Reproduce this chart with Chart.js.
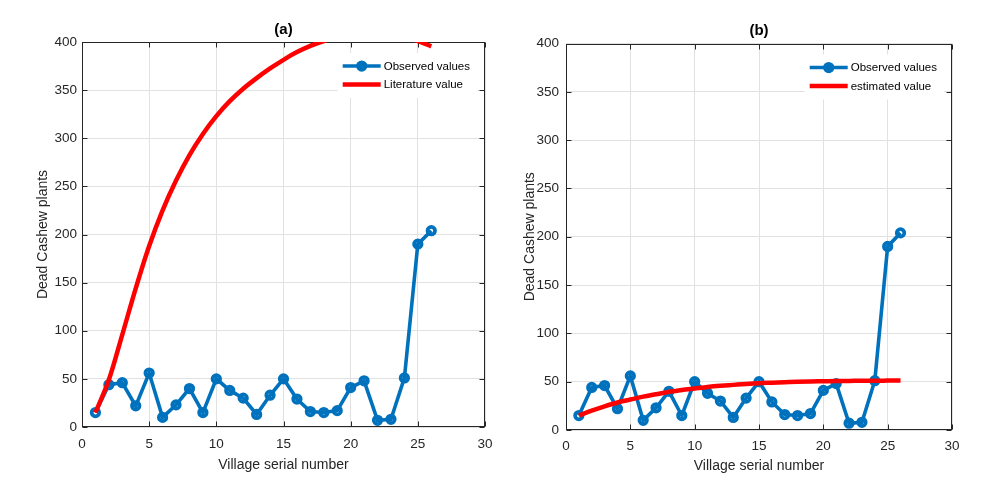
<!DOCTYPE html>
<html>
<head>
<meta charset="utf-8">
<script src="https://cdn.jsdelivr.net/npm/chart.js@4.4.1/dist/chart.umd.min.js"></script>
<style>
  html, body { margin: 0; padding: 0; background: #fff; }
  #wrap { position: relative; width: 995px; height: 504px; }
  canvas { position: absolute; top: 0; }
</style>
</head>
<body>
<div id="wrap">
  <canvas id="chartA" width="495" height="504" style="left:0"></canvas>
  <canvas id="chartB" width="500" height="504" style="left:495px"></canvas>
</div>
<script>
// Data
const villages = [1, 2, 3, 4, 5, 6, 7, 8, 9, 10, 11, 12, 13, 14, 15, 16, 17, 18, 19, 20, 21, 22, 23, 24, 25, 26];
const observed = [15, 44, 46, 22, 56, 10, 23, 40, 15, 50, 38, 30, 13, 33, 50, 29, 16, 15, 17, 41, 48, 7, 8, 51, 190, 204];
// panel (a): literature curve, runs off the top of the axes between ~18 and ~25
const literature = [15, 49, 96, 144, 188, 225, 256, 282.5, 304.5, 323, 338.5, 351.5, 362.5, 372.5, 381.5, 389.5, 396, 401, 404.5, 406.5, 407.5, 407.5, 406.5, 404.5, 401, 395.5];
// panel (b): estimated curve
const estimated = [15, 20, 24.5, 28.5, 31.5, 34.5, 37, 39.5, 41.5, 43, 44.5, 45.7, 46.7, 47.7, 48.5, 49, 49.5, 50, 50.3, 50.5, 50.7, 50.8, 51, 51, 51.1, 51.2];
// tick labels
const xTicks = [0, 5, 10, 15, 20, 25, 30];
const yTicks = [0, 50, 100, 150, 200, 250, 300, 350, 400];

const FONT = '"Liberation Sans", Arial, sans-serif';
const BLUE = '#0072BD';
const RED = '#FF0000';
const GRID = '#e1e1e1';
const AXIS = '#262626';

Chart.defaults.font.family = FONT;
Chart.defaults.color = AXIS;

//Box round the axes with inward ticks (matlab style)
const axesBox = {
    id: 'axesBox',
    beforeDatasetsDraw(chart) {
        const { ctx, chartArea: a, scales } = chart;
        const L = Math.round(a.left) + 0.5, R = Math.round(a.right) - 0.5;
        const T = Math.round(a.top) + 0.5, B = Math.round(a.bottom) - 0.5;
        const len = 5;
        ctx.save();
        ctx.strokeStyle = AXIS;
        ctx.lineWidth = 1;
        ctx.strokeRect(L, T, R - L, B - T);
        ctx.beginPath();
        scales.x.ticks.forEach(t => {
            const px = Math.round(scales.x.getPixelForValue(t.value)) + 0.5;
            ctx.moveTo(px, B); ctx.lineTo(px, B - len);
            ctx.moveTo(px, T); ctx.lineTo(px, T + len);
        });
        scales.y.ticks.forEach(t => {
            const py = Math.round(scales.y.getPixelForValue(t.value)) + 0.5;
            ctx.moveTo(L, py); ctx.lineTo(L + len, py);
            ctx.moveTo(R, py); ctx.lineTo(R - len, py);
        });
        ctx.stroke();
        ctx.restore();
    }
};

//Legend drawn inside the top right corner
const innerLegend = {
    id: 'innerLegend',
    afterDraw(chart, args, opts) {
        const { ctx, chartArea } = chart;
        const sets = chart.data.datasets;
        ctx.save();
        ctx.font = '11.5px ' + FONT;
        const textW = Math.max(...sets.map(d => ctx.measureText(d.label).width));
        const lineLen = 38, gap = 3, rowH = 18.5;
        const x0 = chartArea.right - opts.inset - textW - gap - lineLen;
        const y0 = chartArea.top + opts.top;
        ctx.fillStyle = '#fff';
        ctx.fillRect(x0 - 5, y0 - 13, lineLen + gap + textW + 12, rowH * sets.length + 8);
        sets.forEach((d, i) => {
            const y = y0 + i * rowH;
            ctx.strokeStyle = d.borderColor;
            ctx.lineWidth = d.borderWidth;
            ctx.beginPath();
            ctx.moveTo(x0, y);
            ctx.lineTo(x0 + lineLen, y);
            ctx.stroke();
            if (d.pointRadius > 0) {
                ctx.fillStyle = d.pointBorderColor;
                ctx.beginPath();
                ctx.arc(x0 + lineLen / 2, y, d.pointRadius + d.pointBorderWidth / 2, 0, Math.PI * 2);
                ctx.fill();
            }
            ctx.fillStyle = '#000';
            ctx.textBaseline = 'middle';
            ctx.textAlign = 'left';
            ctx.fillText(d.label, x0 + lineLen + gap, y + 0.5);
        });
        ctx.restore();
    }
};

function buildChart(canvasId, title, fitLabel, fitValues, geo) {
    return new Chart(document.getElementById(canvasId), {
        type: 'line',
        data: {
            datasets: [
                {
                    label: 'Observed values',
                    data: villages.map((v, i) => ({ x: v, y: observed[i] })),
                    borderColor: BLUE,
                    borderWidth: 3.6,
                    pointRadius: 3.75,
                    pointBorderWidth: 3.75,
                    pointBorderColor: BLUE,
                    pointBackgroundColor: 'rgba(0,0,0,0)',
                    tension: 0,
                    order: 2
                },
                {
                    label: fitLabel,
                    data: villages.map((v, i) => ({ x: v, y: fitValues[i] })),
                    borderColor: RED,
                    borderWidth: 4.5,
                    pointRadius: 0,
                    cubicInterpolationMode: 'monotone',
                    order: 1
                }
            ]
        },
        options: {
            responsive: false,
            animation: false,
            events: [],
            layout: { padding: { left: 0, right: geo.right, top: 0, bottom: 0 } },
            plugins: {
                legend: { display: false },
                tooltip: { enabled: false },
                title: {
                    display: true,
                    fullSize: false,
                    text: title,
                    color: '#000',
                    font: { size: 15, weight: 'bold', lineHeight: 1.2 },
                    padding: { top: geo.titleTop, bottom: geo.titleBottom }
                },
                innerLegend: { inset: 15, top: 24 }
            },
            scales: {
                x: {
                    type: 'linear',
                    min: 0,
                    max: 30,
                    afterBuildTicks: s => { s.ticks = xTicks.map(v => ({ value: v })); },
                    afterFit: s => { s.height = geo.xHeight; s.paddingLeft = 0; s.paddingRight = 0; },
                    grid: { color: GRID, drawTicks: false },
                    border: { display: false },
                    ticks: { padding: geo.xTickPad, font: { size: 13.5 }, maxRotation: 0 },
                    title: {
                        display: true,
                        text: 'Village serial number',
                        color: AXIS,
                        font: { size: 14, lineHeight: 1.2 },
                        padding: { top: 0, bottom: geo.xTitlePad }
                    }
                },
                y: {
                    type: 'linear',
                    min: 0,
                    max: 400,
                    afterBuildTicks: s => { s.ticks = yTicks.map(v => ({ value: v })); },
                    afterFit: s => { s.width = geo.yWidth; },
                    grid: { color: GRID, drawTicks: false },
                    border: { display: false },
                    ticks: { padding: geo.yTickPad, font: { size: 13.5 } },
                    title: {
                        display: true,
                        text: 'Dead Cashew plants',
                        color: AXIS,
                        font: { size: 14, lineHeight: 1.2 },
                        padding: { top: geo.yTitlePad, bottom: 0 }
                    }
                }
            }
        },
        plugins: [axesBox, innerLegend]
    });
}

buildChart('chartA', '(a)', 'Literature value', literature, {
    yWidth: 82, xHeight: 77, right: 10, titleTop: 21, titleBottom: 3,
    yTitlePad: 35, xTitlePad: 30, xTickPad: 9, yTickPad: 5
});
buildChart('chartB', '(b)', 'estimated value', estimated, {
    yWidth: 71, xHeight: 74, right: 43, titleTop: 22, titleBottom: 3.5,
    yTitlePad: 27, xTitlePad: 29, xTickPad: 8, yTickPad: 7
});
</script>
</body>
</html>
